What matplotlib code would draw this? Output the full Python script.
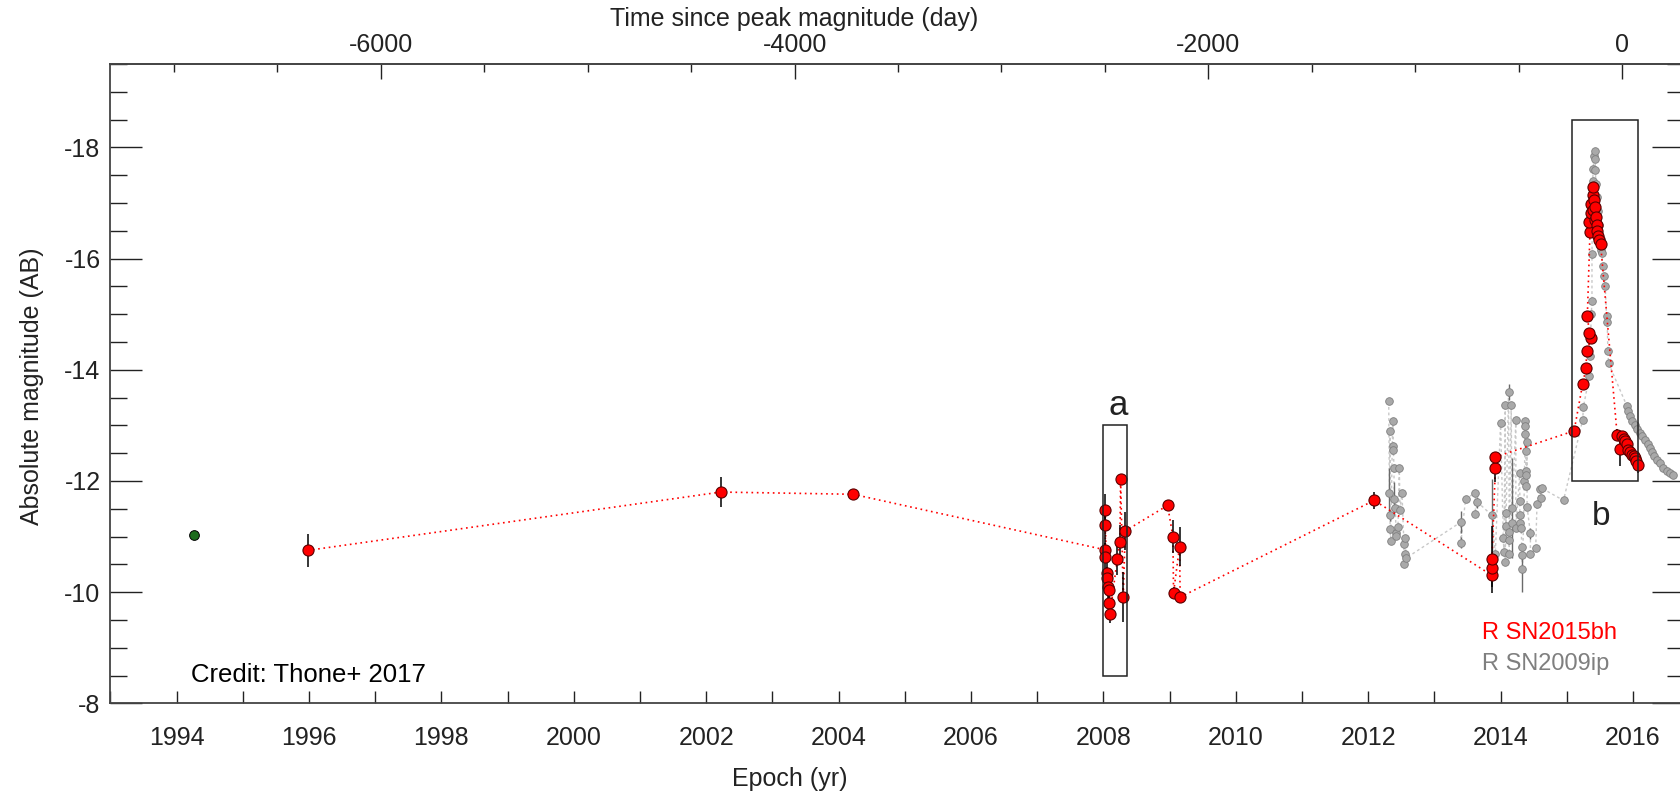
import numpy as np
import matplotlib
matplotlib.use('Agg')
import matplotlib.pyplot as plt
from matplotlib.ticker import MultipleLocator, FixedLocator
from matplotlib.patches import Rectangle

plt.rcParams['font.family'] = ['Liberation Sans', 'DejaVu Sans']

# progenitor point (green)
green_yr = [1994.26]
green_mag = [-11.02]

# R band SN2015bh (red), in line order
red_yr = [1995.98, 2002.22, 2004.22,
          2008.03, 2008.03, 2008.03, 2008.03, 2008.05, 2008.06, 2008.07, 2008.09, 2008.09, 2008.10,
          2008.21, 2008.25, 2008.26, 2008.30, 2008.33, 2008.97,
          2009.05, 2009.06, 2009.15, 2009.16, 2012.09,
          2013.87, 2013.87, 2013.87, 2013.92, 2013.92,
          2015.11, 2015.24, 2015.29, 2015.30, 2015.37, 2015.34, 2015.31,
          2015.35, 2015.34, 2015.36, 2015.37, 2015.39, 2015.40, 2015.41, 2015.40, 2015.42,
          2015.43, 2015.44, 2015.45, 2015.46, 2015.47, 2015.49, 2015.51,
          2015.76, 2015.80, 2015.83, 2015.86, 2015.88, 2015.91, 2015.93, 2015.96,
          2015.98, 2016.01, 2016.03, 2016.05, 2016.07]
red_mag = [-10.75, -11.80, -11.76,
           -10.76, -10.64, -11.47, -11.21, -10.35, -10.25, -10.10, -10.04, -9.81, -9.60,
           -10.60, -10.90, -12.04, -9.91, -11.10, -11.56,
           -11.00, -9.99, -10.82, -9.91, -11.65,
           -10.30, -10.44, -10.59, -12.23, -12.43,
           -12.90, -13.75, -14.03, -14.33, -14.57, -14.67, -14.97,
           -16.48, -16.65, -16.82, -16.98, -17.15, -17.28, -17.05, -16.88, -16.70,
           -16.92, -16.75, -16.60, -16.50, -16.40, -16.33, -16.27,
           -12.83, -12.57, -12.80, -12.75, -12.71, -12.66, -12.56, -12.52,
           -12.47, -12.44, -12.41, -12.35, -12.29]
red_err = [0.30, 0.27, 0.06,
           0.20, 0.25, 0.30, 0.25, 0.20, 0.20, 0.20, 0.25, 0.20, 0.15,
           0.30, 0.30, 0.0, 0.45, 0.35, 0.0,
           0.30, 0.10, 0.35, 0.10, 0.15,
           0.20, 0.20, 0.60, 0.25, 0.0,
           0.05, 0.05, 0.05, 0.05, 0.05, 0.05, 0.05,
           0.0, 0.0, 0.0, 0.0, 0.0, 0.0, 0.0, 0.0, 0.0,
           0.0, 0.0, 0.0, 0.0, 0.0, 0.0, 0.0,
           0.10, 0.30, 0.10, 0.05, 0.05, 0.05, 0.05, 0.05,
           0.05, 0.05, 0.05, 0.05, 0.15]

# R band SN2009ip (grey), shifted in time
grey_yr = [2012.31, 2012.32, 2012.33, 2012.33, 2012.33, 2012.34, 2012.37, 2012.38, 2012.38,
           2012.39, 2012.39, 2012.41, 2012.42, 2012.42, 2012.45, 2012.47, 2012.48, 2012.51,
           2012.54, 2012.54, 2012.55, 2012.56, 2012.57,
           2013.40, 2013.40, 2013.47, 2013.62, 2013.62, 2013.65, 2013.87, 2013.92,
           2014.00, 2014.04, 2014.05, 2014.07, 2014.07, 2014.08, 2014.08, 2014.12, 2014.13,
           2014.13, 2014.13, 2014.16, 2014.17, 2014.17, 2014.23, 2014.23, 2014.29, 2014.29,
           2014.29, 2014.29, 2014.31, 2014.32, 2014.32, 2014.33, 2014.36, 2014.37, 2014.37,
           2014.37, 2014.38, 2014.38, 2014.38, 2014.39, 2014.40, 2014.40, 2014.45, 2014.45,
           2014.53, 2014.55, 2014.60, 2014.61, 2014.62, 2014.95,
           2015.24, 2015.25, 2015.34, 2015.35, 2015.36, 2015.37, 2015.38,
           2015.38, 2015.39, 2015.40, 2015.41, 2015.42, 2015.43, 2015.43, 2015.44, 2015.45,
           2015.47, 2015.49, 2015.51, 2015.52, 2015.53, 2015.54, 2015.56, 2015.58, 2015.60,
           2015.61, 2015.62, 2015.63, 2015.91, 2015.93, 2015.96, 2015.99, 2016.03, 2016.06,
           2016.11, 2016.14, 2016.18, 2016.22, 2016.26, 2016.29, 2016.31, 2016.36, 2016.41,
           2016.46, 2016.51, 2016.56, 2016.61]
grey_mag = [-13.43, -11.78, -12.90, -11.38, -11.13, -10.92, -13.08, -12.63, -12.56,
            -12.24, -11.68, -11.52, -11.07, -11.01, -11.17, -12.24, -11.47, -11.79,
            -10.86, -10.50, -10.68, -10.98, -10.61,
            -11.26, -10.89, -11.67, -11.79, -11.41, -11.62, -11.38, -10.69,
            -13.05, -10.98, -10.73, -13.37, -10.54, -11.43, -11.19, -13.60, -11.08,
            -10.94, -10.69, -13.37, -11.52, -11.25, -13.09, -11.16, -12.15, -11.64,
            -11.39, -11.25, -11.16, -10.82, -10.66, -10.41, -12.00, -13.08, -12.99,
            -12.84, -12.53, -12.18, -12.11, -11.90, -12.70, -11.53, -11.06, -10.69,
            -10.79, -11.59, -11.85, -11.70, -11.87, -11.65,
            -13.10, -13.33, -13.88, -14.25, -14.62, -15.00, -15.24,
            -16.08, -17.40, -17.62, -17.85, -17.93, -17.80, -17.60, -17.35, -17.10,
            -16.85, -16.60, -16.35, -16.15, -16.10, -15.86, -15.68, -15.50, -14.96,
            -14.85, -14.33, -14.12, -13.34, -13.25, -13.16, -13.08, -13.01, -12.93,
            -12.86, -12.80, -12.74, -12.66, -12.59, -12.52, -12.44, -12.38, -12.32,
            -12.23, -12.18, -12.14, -12.11]
grey_err = [0.05, 0.45, 0.05, 0.10, 0.05, 0.05, 0.05, 0.05, 0.05,
            0.05, 0.30, 0.05, 0.05, 0.05, 0.05, 0.05, 0.05, 0.05,
            0.05, 0.05, 0.05, 0.05, 0.05,
            0.20, 0.10, 0.05, 0.05, 0.05, 0.10, 0.65, 0.05,
            0.05, 0.05, 0.05, 0.05, 0.05, 0.05, 0.05, 0.15, 0.05,
            0.05, 0.05, 0.05, 0.90, 0.05, 0.05, 0.05, 0.05, 0.05,
            0.05, 0.05, 0.05, 0.05, 0.05, 0.40, 0.05, 0.05, 0.05,
            0.05, 0.05, 0.05, 0.05, 0.05, 0.05, 0.05, 0.10, 0.05,
            0.05, 0.05, 0.05, 0.05, 0.05, 0.05,
            0.05, 0.05, 0.05, 0.05, 0.05, 0.05, 0.05,
            0.05, 0.05, 0.05, 0.05, 0.05, 0.05, 0.05, 0.05, 0.05,
            0.05, 0.05, 0.05, 0.05, 0.05, 0.05, 0.05, 0.05, 0.05,
            0.05, 0.05, 0.05, 0.05, 0.05, 0.05, 0.05, 0.05, 0.05,
            0.05, 0.05, 0.05, 0.05, 0.05, 0.05, 0.05, 0.05, 0.05,
            0.05, 0.05, 0.05, 0.05]

# zoom boxes: (x0, x1, mag faint, mag bright)
box_a = (2008.0, 2008.35, -8.5, -13.0)
box_b = (2015.08, 2016.08, -12.0, -18.5)

year_ticks = [1994, 1996, 1998, 2000, 2002, 2004, 2006, 2008, 2010, 2012, 2014, 2016]
day_ticks = [-6000, -4000, -2000, 0]

peak_yr = 2015.836
days_per_yr = 320.0

W, H = 1681, 794
fig = plt.figure(figsize=(W / 100, H / 100), dpi=100)
ax = fig.add_axes([110.3 / W, 1 - 703.3 / H, (1684 - 110.3) / W, (703.3 - 64) / H])

ax.plot(grey_yr, grey_mag, color='#c8c8c8', lw=1, ls=(0, (2, 2)), zorder=1)
ax.errorbar(grey_yr, grey_mag, yerr=grey_err, fmt='o', ms=5.5, mfc='#a9a9a9', mec='#7f7f7f',
            mew=0.6, ecolor='#6a6a6a', elinewidth=1, capsize=0, zorder=2)

ax.plot(red_yr, red_mag, color='red', lw=1.2, ls=(0, (1, 2.2)), zorder=3)
ax.errorbar(red_yr, red_mag, yerr=red_err, fmt='o', ms=8, mfc='red', mec='#5a0000',
            mew=0.8, ecolor='black', elinewidth=1.1, capsize=0, zorder=4)

ax.plot(green_yr, green_mag, 'o', ms=7, mfc='#1d6b1d', mec='black', mew=0.7, zorder=4)

for bx in (box_a, box_b):
    ax.add_patch(Rectangle((bx[0], bx[2]), bx[1] - bx[0], bx[3] - bx[2], fill=False,
                           ec='#222222', lw=1.1, zorder=5))

ax.set_xlim(1993.0, 2016.77)
ax.set_ylim(-8, -19.5)

ax.xaxis.set_major_locator(FixedLocator(year_ticks))
ax.xaxis.set_minor_locator(MultipleLocator(1))
ax.yaxis.set_major_locator(MultipleLocator(2))
ax.yaxis.set_minor_locator(MultipleLocator(0.5))
ax.xaxis.set_major_formatter(plt.FuncFormatter(lambda v, p: '%d' % round(v)))
ax.yaxis.set_major_formatter(plt.FuncFormatter(lambda v, p: '%d' % round(v)))

ax.tick_params(axis='x', which='both', direction='in', length=9, width=1, top=False,
               labelsize=18, pad=16, colors='#222222')
ax.tick_params(axis='y', which='major', direction='in', length=23, width=1, right=True,
               labelsize=18, pad=7, colors='#222222')
ax.tick_params(axis='y', which='minor', direction='in', length=12, width=1, right=True,
               colors='#222222')
for s in ax.spines.values():
    s.set_color('#444444')
    s.set_linewidth(1.3)

sec = ax.secondary_xaxis('top', functions=(lambda y: (y - peak_yr) * days_per_yr,
                                            lambda d: d / days_per_yr + peak_yr))
sec.xaxis.set_major_locator(FixedLocator(day_ticks))
sec.xaxis.set_minor_locator(MultipleLocator(500))
sec.xaxis.set_major_formatter(plt.FuncFormatter(lambda v, p: '%d' % round(v)))
sec.tick_params(which='major', direction='in', length=11, width=1, labelsize=18, pad=5,
                colors='#222222')
sec.tick_params(which='minor', direction='in', length=5.5, width=1, colors='#222222')
sec.spines['top'].set_color('#555555')
sec.spines['top'].set_linewidth(1.3)

# labels placed in figure pixels
def ftext(x, y, s, **kw):
    fig.text(x / W, 1 - y / H, s, **kw)

ftext(790, 779, 'Epoch (yr)', fontsize=18, ha='center', va='center', color='#222222')
ftext(794, 19, 'Time since peak magnitude (day)', fontsize=18, ha='center', va='center',
      color='#222222')
ftext(32, 386, 'Absolute magnitude (AB)', fontsize=18, ha='center', va='center',
      rotation=90, color='#222222')
ftext(191.5, 681.7, 'Credit: Thone+ 2017', fontsize=18.5, ha='left', va='baseline', color='black')
ftext(1118, 415, 'a', fontsize=25, ha='center', va='baseline', color='#222222')
ftext(1601, 525, 'b', fontsize=24, ha='center', va='baseline', color='#222222')
ftext(1617, 639, 'R SN2015bh', fontsize=17, ha='right', va='baseline', color='red')
ftext(1609, 670, 'R SN2009ip', fontsize=17, ha='right', va='baseline', color='#7f7f7f')

fig.savefig('out.png', dpi=100)
